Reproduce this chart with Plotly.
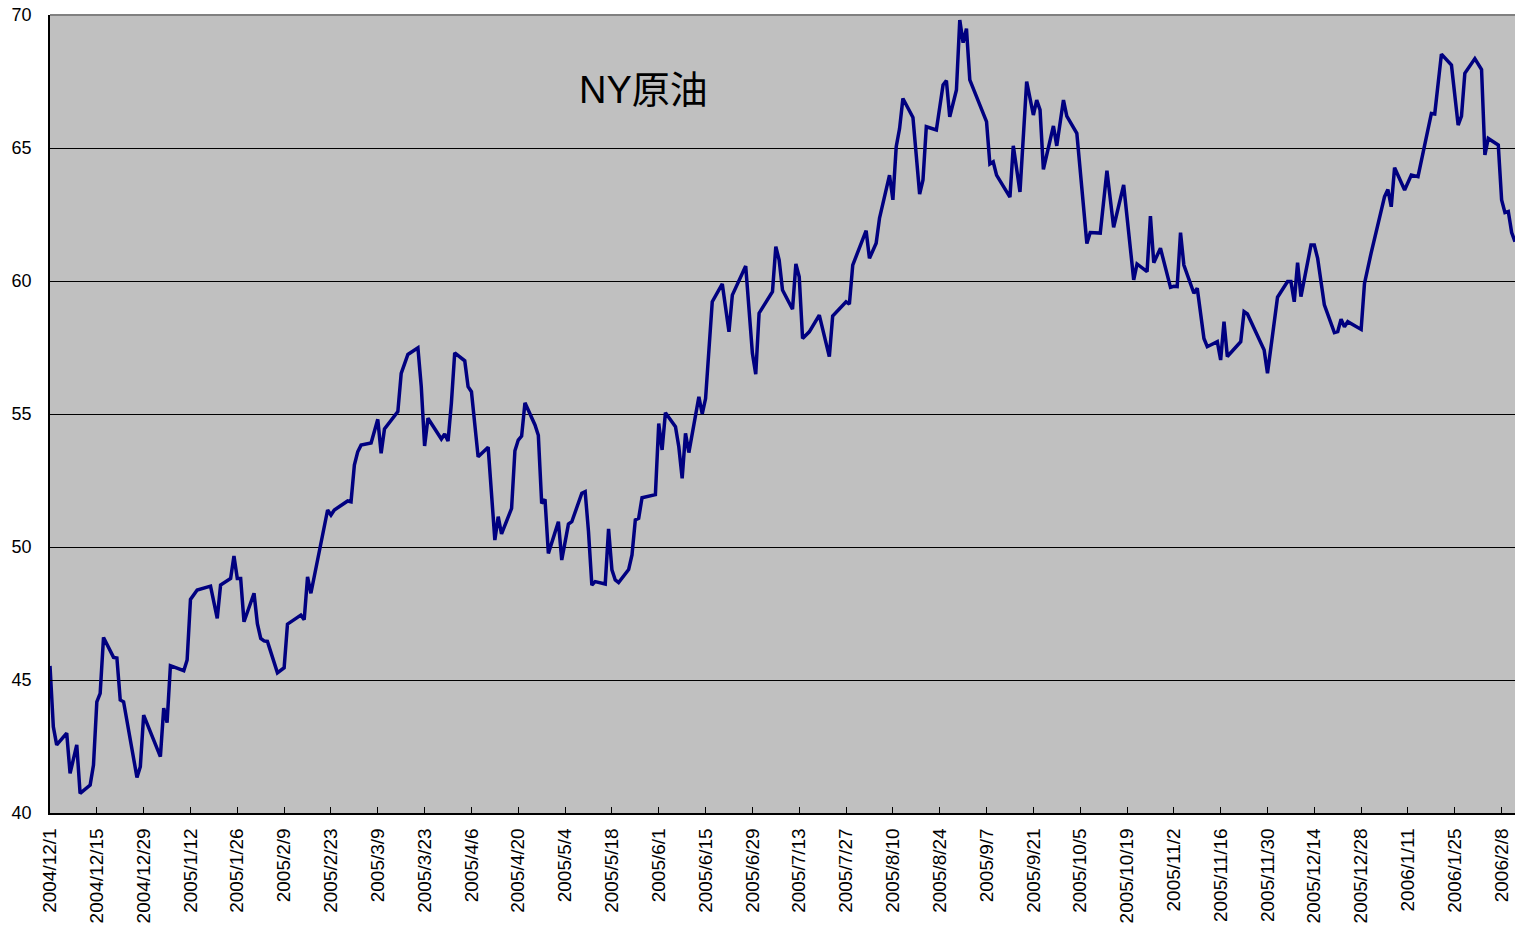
import plotly.graph_objects as go

dates = [
    "2004-12-01", "2004-12-02", "2004-12-03", "2004-12-06", "2004-12-07", "2004-12-09", "2004-12-10", "2004-12-13", "2004-12-14", "2004-12-15",
    "2004-12-16", "2004-12-17", "2004-12-20", "2004-12-21", "2004-12-22", "2004-12-23", "2004-12-27", "2004-12-28", "2004-12-29",
    "2005-01-03", "2005-01-04", "2005-01-05", "2005-01-06", "2005-01-10", "2005-01-11", "2005-01-12", "2005-01-14", "2005-01-18", "2005-01-20",
    "2005-01-21", "2005-01-24", "2005-01-25", "2005-01-26", "2005-01-27", "2005-01-28", "2005-01-31",
    "2005-02-01", "2005-02-02", "2005-02-03", "2005-02-04", "2005-02-07", "2005-02-09", "2005-02-10", "2005-02-14", "2005-02-15", "2005-02-16",
    "2005-02-17", "2005-02-22", "2005-02-23", "2005-02-24", "2005-02-28",
    "2005-03-01", "2005-03-02", "2005-03-03", "2005-03-04", "2005-03-07", "2005-03-09", "2005-03-10", "2005-03-11", "2005-03-15", "2005-03-16",
    "2005-03-18", "2005-03-21", "2005-03-22", "2005-03-23", "2005-03-24", "2005-03-28", "2005-03-29", "2005-03-30", "2005-03-31",
    "2005-04-01", "2005-04-04", "2005-04-05", "2005-04-06", "2005-04-08", "2005-04-11", "2005-04-13", "2005-04-14", "2005-04-15", "2005-04-18",
    "2005-04-19", "2005-04-20", "2005-04-21", "2005-04-22", "2005-04-25", "2005-04-26", "2005-04-27", "2005-04-28", "2005-04-29",
    "2005-05-02", "2005-05-03", "2005-05-05", "2005-05-06", "2005-05-09", "2005-05-10", "2005-05-11", "2005-05-12", "2005-05-13", "2005-05-16",
    "2005-05-17", "2005-05-18", "2005-05-19", "2005-05-20", "2005-05-23", "2005-05-24", "2005-05-25", "2005-05-26", "2005-05-27", "2005-05-31",
    "2005-06-01", "2005-06-02", "2005-06-03", "2005-06-06", "2005-06-07", "2005-06-08", "2005-06-09", "2005-06-10", "2005-06-13", "2005-06-14",
    "2005-06-15", "2005-06-17", "2005-06-20", "2005-06-22", "2005-06-23", "2005-06-27", "2005-06-29", "2005-06-30",
    "2005-07-01", "2005-07-05", "2005-07-06", "2005-07-07", "2005-07-08", "2005-07-11", "2005-07-12", "2005-07-13", "2005-07-14", "2005-07-16",
    "2005-07-19", "2005-07-22", "2005-07-23", "2005-07-27", "2005-07-28", "2005-07-29",
    "2005-08-02", "2005-08-03", "2005-08-05", "2005-08-06", "2005-08-09", "2005-08-10", "2005-08-11", "2005-08-12", "2005-08-13", "2005-08-16",
    "2005-08-18", "2005-08-19", "2005-08-20", "2005-08-23", "2005-08-25", "2005-08-26", "2005-08-27", "2005-08-29", "2005-08-30", "2005-08-31",
    "2005-09-01", "2005-09-02", "2005-09-07", "2005-09-08", "2005-09-09", "2005-09-10", "2005-09-14", "2005-09-15", "2005-09-17", "2005-09-19",
    "2005-09-21", "2005-09-22", "2005-09-23", "2005-09-24", "2005-09-27", "2005-09-28", "2005-09-30",
    "2005-10-01", "2005-10-04", "2005-10-07", "2005-10-08", "2005-10-11", "2005-10-13", "2005-10-15", "2005-10-18", "2005-10-21", "2005-10-22",
    "2005-10-25", "2005-10-26", "2005-10-27", "2005-10-29",
    "2005-11-01", "2005-11-02", "2005-11-03", "2005-11-04", "2005-11-05", "2005-11-08", "2005-11-09", "2005-11-11", "2005-11-12", "2005-11-15",
    "2005-11-16", "2005-11-17", "2005-11-18", "2005-11-22", "2005-11-23", "2005-11-24", "2005-11-29", "2005-11-30",
    "2005-12-03", "2005-12-06", "2005-12-07", "2005-12-08", "2005-12-09", "2005-12-10", "2005-12-13", "2005-12-14", "2005-12-15", "2005-12-17",
    "2005-12-20", "2005-12-21", "2005-12-22", "2005-12-23", "2005-12-24", "2005-12-28", "2005-12-29", "2005-12-31",
    "2006-01-04", "2006-01-05", "2006-01-06", "2006-01-07", "2006-01-10", "2006-01-12", "2006-01-14", "2006-01-18", "2006-01-19", "2006-01-21",
    "2006-01-24", "2006-01-25", "2006-01-26", "2006-01-27", "2006-01-28", "2006-01-31",
    "2006-02-02", "2006-02-03", "2006-02-04", "2006-02-07", "2006-02-08", "2006-02-09", "2006-02-10", "2006-02-11", "2006-02-12",
]

prices = [
    45.53, 43.24, 42.56, 43.0, 41.49, 42.56, 40.74, 41.05, 41.8, 44.18,
    44.5, 46.6, 45.85, 45.83, 44.25, 44.18, 41.34, 41.74, 43.68,
    42.12, 43.94, 43.4, 45.54, 45.35, 45.75, 48.03, 48.38, 48.53, 47.32,
    48.57, 48.82, 49.66, 48.82, 48.82, 47.19, 48.26,
    47.12, 46.56, 46.47, 46.45, 45.27, 45.46, 47.1, 47.44, 47.27, 48.88,
    48.26, 51.39, 51.2, 51.39, 51.73,
    51.7, 53.08, 53.58, 53.83, 53.91, 54.8, 53.52, 54.44, 55.09, 56.53,
    57.24, 57.49, 56.03, 53.8, 54.84, 54.06, 54.25, 53.98, 55.4,
    57.3, 57.0, 56.03, 55.84, 53.39, 53.75, 50.26, 51.14, 50.49, 51.45,
    53.62, 54.02, 54.17, 55.42, 54.59, 54.2, 51.64, 51.79, 49.76,
    50.95, 49.51, 50.86, 50.95, 52.02, 52.08, 50.58, 48.57, 48.7, 48.61,
    50.68, 49.14, 48.76, 48.66, 49.15, 49.7, 51.02, 51.08, 51.85, 51.97,
    54.64, 53.65, 55.05, 54.52, 53.77, 52.58, 54.27, 53.55, 55.65, 55.0,
    55.58, 59.22, 59.89, 58.09, 59.47, 60.56, 57.28, 56.5,
    58.79, 59.6, 61.29, 60.79, 59.66, 58.94, 60.64, 60.16, 57.84, 58.09,
    58.72, 57.16, 58.68, 59.22, 59.13, 60.6,
    61.89, 60.85, 61.42, 62.36, 63.98, 63.05, 65.05, 65.73, 66.86, 66.15,
    63.27, 63.8, 65.8, 65.68, 67.37, 67.53, 66.17, 67.18, 69.81, 68.96,
    69.49, 67.56, 65.99, 64.4, 64.48, 63.98, 63.15, 65.08, 63.35, 67.5,
    66.24, 66.8, 66.43, 64.2, 65.83, 65.08, 66.8,
    66.2, 65.55, 61.41, 61.82, 61.8, 64.15, 62.02, 63.61, 60.04, 60.64,
    60.35, 62.44, 60.69, 61.23,
    59.76, 59.8, 59.79, 61.82, 60.6, 59.54, 59.73, 57.84, 57.53, 57.72,
    57.03, 58.47, 57.16, 57.72, 58.85, 58.76, 57.41, 56.53,
    59.39, 59.98, 59.98, 59.22, 60.69, 59.41, 61.35, 61.35, 60.85, 59.1,
    58.06, 58.1, 58.56, 58.28, 58.47, 58.18, 59.91, 61.06,
    63.17, 63.44, 62.79, 64.26, 63.42, 63.98, 63.92, 66.3, 66.28, 68.53,
    68.12, 67.06, 65.86, 66.2, 67.81, 68.36,
    67.95, 64.74, 65.36, 65.11, 63.05, 62.57, 62.61, 61.82, 61.48,
]

title_text = "NY原油"
x_range = ["2004-12-01", "2006-02-12"]
y_range = [40, 70]

fig = go.Figure(
    go.Scatter(
        x=dates, y=prices, mode="lines",
        line=dict(color="#000080", width=3.5),
        hoverinfo="x+y",
    )
)

fig.update_layout(
    width=1515, height=929,
    margin=dict(l=50, r=0, t=15, b=116),
    paper_bgcolor="white",
    plot_bgcolor="#C0C0C0",
    showlegend=False,
    font=dict(family="Liberation Sans, Arial, sans-serif", color="black"),
)

fig.update_xaxes(
    type="date", range=x_range, automargin=False,
    tick0="2004-12-01", dtick=14 * 86400000,
    tickformat="%Y/%-m/%-d", tickangle=-90,
    ticks="inside", ticklen=6, tickcolor="black", tickwidth=1,
    showline=True, linecolor="black", linewidth=1.5,
    showgrid=False, zeroline=False,
    tickfont=dict(size=19, family="Liberation Sans, Arial, sans-serif"),
    ticklabelstandoff=6,
)

fig.update_yaxes(
    range=y_range, dtick=5, tick0=40, automargin=False,
    ticks="inside", ticklen=6, tickcolor="black",
    showline=True, linecolor="black", linewidth=1.5,
    showgrid=True, gridcolor="black", gridwidth=1,
    zeroline=False,
    tickfont=dict(size=18, family="Liberation Sans, Arial, sans-serif"),
    ticklabelstandoff=13,
)

fig.add_shape(type="line", xref="paper", yref="paper", x0=0, x1=1, y0=1, y1=1,
              line=dict(color="#808080", width=2))

fig.add_annotation(
    text=title_text, xref="paper", yref="paper",
    x=(643 - 50) / 1465, y=(813 - 90) / 798,
    xanchor="center", yanchor="middle", showarrow=False,
    font=dict(size=38, family="Liberation Sans, Noto Sans CJK JP, sans-serif", color="black"),
)

fig.write_html(
    "out.html",
    config={"displayModeBar": False},
    post_script="document.body.style.margin='0px';document.body.style.overflow='hidden';",
)
